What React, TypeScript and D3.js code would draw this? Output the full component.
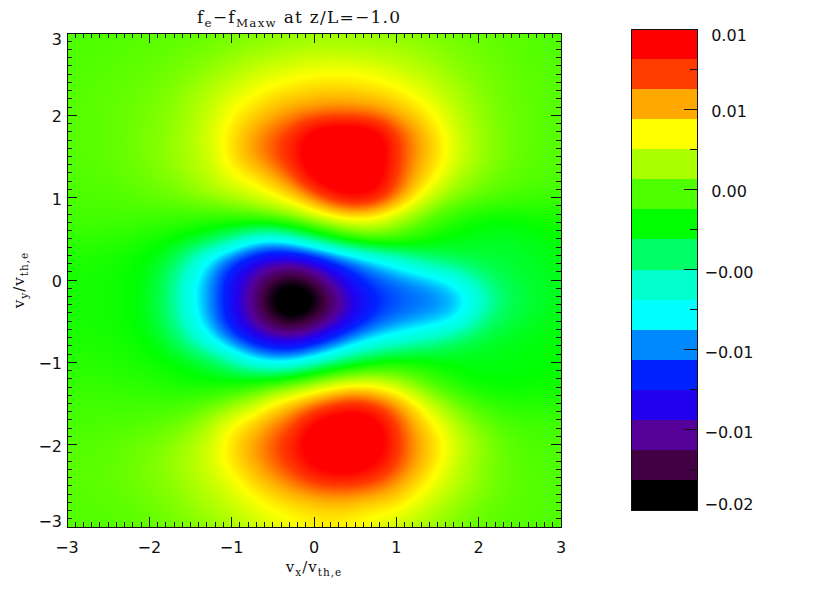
import * as d3 from 'd3';
import React, { useMemo } from 'react';

// grid the map was read on, vx along a row, vy row by row from the top
const vxGrid = d3.range(25).map((i) => -3 + i * 0.25);
const vyGrid = d3.range(25).map((i) => 3 - i * 0.25);

// f_e - f_Maxw, in units of 1e-3
const fRows = [
  [1.4, 1.4, 1.4, 1.5, 1.5, 1.6, 1.7, 1.8, 2.0, 2.2, 2.3, 2.5, 2.6, 2.6, 2.6, 2.5, 2.4, 2.3, 2.1, 1.9, 1.8, 1.7, 1.6, 1.5, 1.4],
  [1.4, 1.4, 1.5, 1.6, 1.7, 1.8, 2.0, 2.2, 2.5, 2.8, 3.0, 3.2, 3.3, 3.4, 3.3, 3.2, 3.0, 2.8, 2.5, 2.2, 2.0, 1.8, 1.6, 1.5, 1.4],
  [1.4, 1.5, 1.6, 1.7, 1.8, 2.0, 2.3, 2.7, 3.1, 3.6, 4.0, 4.3, 4.5, 4.6, 4.5, 4.3, 3.9, 3.4, 3.0, 2.5, 2.2, 1.9, 1.7, 1.6, 1.5],
  [1.5, 1.6, 1.7, 1.8, 2.0, 2.3, 2.7, 3.3, 3.9, 4.5, 5.0, 5.3, 5.5, 5.6, 5.5, 5.3, 4.9, 4.4, 3.6, 3.0, 2.4, 2.0, 1.8, 1.6, 1.5],
  [1.5, 1.6, 1.7, 1.9, 2.1, 2.4, 2.9, 3.6, 4.6, 5.3, 6.0, 6.6, 7.0, 7.2, 7.2, 6.9, 6.2, 5.3, 4.4, 3.3, 2.6, 2.1, 1.8, 1.6, 1.5],
  [1.5, 1.6, 1.7, 1.9, 2.2, 2.5, 3.1, 3.9, 5.0, 6.2, 7.2, 8.2, 10.2, 11.0, 11.0, 10.2, 7.8, 6.4, 5.0, 3.7, 2.8, 2.2, 1.8, 1.6, 1.5],
  [1.5, 1.6, 1.7, 1.9, 2.2, 2.6, 3.0, 3.7, 5.1, 6.2, 7.3, 8.6, 10.5, 11.3, 11.3, 10.4, 8.0, 6.3, 5.1, 3.8, 2.8, 2.2, 1.8, 1.6, 1.5],
  [1.4, 1.5, 1.6, 1.8, 2.0, 2.3, 2.8, 3.4, 4.3, 4.9, 5.9, 7.4, 9.6, 10.6, 10.8, 10.1, 7.7, 5.9, 4.5, 3.1, 2.4, 1.9, 1.6, 1.5, 1.4],
  [1.3, 1.4, 1.4, 1.5, 1.7, 1.9, 2.2, 2.6, 3.0, 3.6, 4.3, 5.2, 6.8, 8.5, 9.3, 8.7, 6.8, 4.7, 3.0, 2.2, 1.7, 1.4, 1.2, 1.1, 1.0],
  [1.2, 1.2, 1.2, 1.2, 1.1, 1.0, 0.9, 0.8, 0.9, 1.1, 1.6, 2.3, 3.3, 4.2, 4.7, 4.3, 3.2, 2.1, 1.2, 0.5, 0.1, -0.1, 0.0, 0.2, 0.4],
  [0.8, 0.8, 0.7, 0.6, 0.3, 0.0, -0.4, -1.1, -2.2, -3.9, -4.6, -3.5, -1.8, -0.2, 1.0, 1.6, 1.3, 0.6, 0.0, -0.4, -0.6, -0.7, -0.6, -0.4, -0.2],
  [0.4, 0.4, 0.3, 0.1, -0.3, -1.0, -3.0, -5.2, -7.2, -9.0, -10.0, -10.2, -9.3, -7.6, -6.2, -5.0, -3.8, -2.5, -1.7, -1.2, -1.0, -0.9, -0.8, -0.6, -0.4],
  [0.3, 0.3, 0.2, 0.0, -0.5, -1.9, -4.3, -6.3, -9.0, -11.0, -13.0, -13.8, -12.4, -10.4, -8.5, -7.4, -6.7, -6.1, -5.4, -4.3, -2.6, -1.5, -1.0, -0.7, -0.5],
  [0.3, 0.3, 0.2, 0.0, -0.6, -2.0, -4.5, -6.4, -9.0, -11.4, -14.6, -16.4, -14.8, -12.0, -9.6, -8.2, -7.4, -7.0, -6.6, -5.9, -3.9, -2.1, -1.2, -0.8, -0.5],
  [0.3, 0.3, 0.2, 0.0, -0.6, -1.8, -4.0, -6.2, -8.8, -11.0, -13.0, -14.0, -12.6, -10.8, -9.0, -7.4, -6.6, -6.0, -5.6, -4.7, -2.6, -1.4, -0.9, -0.6, -0.4],
  [0.4, 0.4, 0.3, 0.2, -0.2, -1.0, -2.6, -4.4, -6.5, -8.4, -9.6, -9.8, -8.8, -7.2, -5.4, -4.4, -3.6, -2.9, -2.2, -1.4, -0.9, -0.6, -0.4, -0.3, -0.2],
  [0.6, 0.6, 0.5, 0.4, 0.2, -0.1, -0.5, -1.1, -2.4, -4.0, -5.0, -4.7, -3.4, -2.0, -0.9, -0.1, 0.3, 0.2, -0.1, -0.3, -0.4, -0.4, -0.3, -0.2, -0.1],
  [0.9, 0.9, 0.8, 0.7, 0.6, 0.3, 0.1, 0.0, 0.1, 0.4, 1.0, 1.8, 2.8, 3.7, 4.2, 4.0, 3.1, 2.0, 1.0, 0.3, -0.1, -0.2, -0.1, 0.0, 0.1],
  [1.1, 1.1, 1.1, 1.1, 1.1, 1.1, 1.3, 1.7, 2.4, 3.3, 4.7, 5.7, 6.7, 7.6, 8.2, 7.5, 6.3, 4.6, 3.0, 1.9, 1.1, 0.7, 0.5, 0.5, 0.6],
  [1.3, 1.3, 1.4, 1.4, 1.6, 1.8, 2.2, 3.2, 4.5, 5.4, 6.5, 7.5, 9.5, 10.6, 10.8, 9.9, 7.7, 5.9, 4.4, 3.1, 2.1, 1.5, 1.2, 1.1, 1.1],
  [1.5, 1.5, 1.6, 1.8, 2.0, 2.4, 3.0, 3.8, 5.1, 6.2, 7.3, 8.6, 10.5, 11.3, 11.3, 10.4, 8.0, 6.3, 5.1, 3.7, 2.7, 1.9, 1.5, 1.4, 1.4],
  [1.6, 1.6, 1.7, 1.9, 2.2, 2.6, 3.1, 3.8, 4.9, 5.9, 7.0, 8.0, 9.5, 10.3, 10.2, 9.2, 7.6, 6.1, 4.7, 3.4, 2.5, 1.9, 1.6, 1.4, 1.4],
  [1.6, 1.6, 1.7, 1.9, 2.1, 2.4, 2.9, 3.4, 4.0, 5.0, 5.8, 6.6, 7.3, 7.6, 7.5, 7.1, 6.2, 5.0, 4.0, 3.1, 2.5, 1.9, 1.6, 1.5, 1.4],
  [1.5, 1.5, 1.6, 1.7, 1.9, 2.2, 2.6, 3.0, 3.5, 4.1, 4.6, 5.0, 5.3, 5.5, 5.3, 5.0, 4.8, 4.0, 3.2, 2.5, 2.0, 1.7, 1.6, 1.5, 1.4],
  [1.5, 1.5, 1.5, 1.6, 1.7, 1.9, 2.2, 2.5, 2.9, 3.4, 3.9, 4.3, 4.6, 4.7, 4.4, 4.0, 3.5, 2.9, 2.5, 2.1, 1.8, 1.6, 1.5, 1.4, 1.4],
];

// colour table, position in the bar and colour
const colorStops = [0, 0.031, 0.094, 0.156, 0.219, 0.281, 0.344, 0.406, 0.469, 0.531, 0.594, 0.656, 0.719, 0.781, 0.844, 0.906, 0.969, 1];
const colorValues = ['#000000', '#000000', '#440044', '#550099', '#2200ee', '#0022ff', '#0088ff', '#00ffff', '#00ffcc', '#00ff66', '#00ff00', '#4dff00', '#aaff00', '#ffff00', '#ffa800', '#ff3c00', '#ff0000', '#ff0000'];

const axisTicks = [-3, -2, -1, 0, 1, 2, 3];
const barMin = -15;
const barMax = 10;
const barLevels = 16;
const barLabels = ['\u22120.02', '\u22120.01', '\u22120.01', '\u22120.00', '0.00', '0.01', '0.01'];

const fontSans = '"DejaVu Sans", sans-serif';
const fontSerif = '"DejaVu Serif", serif';
const ink = '#111';

const x = d3.scaleLinear().domain([-3, 3]).range([67, 561]);
const y = d3.scaleLinear().domain([-3, 3]).range([527, 33]);
const barY = d3.scaleLinear().domain([barMin, barMax]).range([510, 29]);
const colorPos = d3.scaleLinear().domain([barMin, barMax]).range([0, 1]).clamp(true);
const colorTable = d3.scaleLinear<string>().domain(colorStops).range(colorValues).interpolate(d3.interpolateRgb);

// cubic b-spline, only to smooth the read values for drawing like IDL's interpolated image
function spline(a: number, b: number, c: number, d: number, t: number) {
  const t2 = t * t;
  const t3 = t2 * t;
  return ((1 - 3 * t + 3 * t2 - t3) * a + (4 - 6 * t2 + 3 * t3) * b + (1 + 3 * t + 3 * t2 - 3 * t3) * c + t3 * d) / 6;
}

function sample(col: number, row: number) {
  const clampIdx = (i: number) => Math.max(0, Math.min(24, i));
  const c0 = Math.min(23, Math.floor(col));
  const r0 = Math.min(23, Math.floor(row));
  const rowVals = [-1, 0, 1, 2].map((dr) => {
    const r = fRows[clampIdx(r0 + dr)];
    return spline(r[clampIdx(c0 - 1)], r[c0], r[c0 + 1], r[clampIdx(c0 + 2)], col - c0);
  });
  return spline(rowVals[0], rowVals[1], rowVals[2], rowVals[3], row - r0);
}

function renderMap() {
  const w = Math.round(x(3) - x(-3));
  const h = Math.round(y(-3) - y(3));
  const canvas = document.createElement('canvas');
  canvas.width = w;
  canvas.height = h;
  const ctx = canvas.getContext('2d')!;
  const image = ctx.createImageData(w, h);
  const colIdx = d3.scaleLinear().domain(d3.extent(vxGrid) as [number, number]).range([0, 24]);
  const rowIdx = d3.scaleLinear().domain(d3.extent(vyGrid) as [number, number]).range([24, 0]);
  for (let j = 0; j < h; j++) {
    for (let i = 0; i < w; i++) {
      const v = sample(colIdx(x.invert(x(-3) + i + 0.5)), rowIdx(y.invert(y(3) + j + 0.5)));
      const c = d3.rgb(colorTable(colorPos(v)));
      const k = (j * w + i) * 4;
      image.data[k] = c.r;
      image.data[k + 1] = c.g;
      image.data[k + 2] = c.b;
      image.data[k + 3] = 255;
    }
  }
  ctx.putImageData(image, 0, 0);
  return canvas.toDataURL();
}

const Sub = ({ children, dy = 4 }: any) => (
  <tspan fontSize="70%" dy={dy}>{children}</tspan>
);

const minorTicks = d3.range(61).map((i) => -3 + i * 0.1).filter((_, i) => i % 10 !== 0);

export default function App() {
  const href = useMemo(renderMap, []);
  const bands = d3.range(barLevels);
  const bandH = (barMax - barMin) / barLevels;
  const barTicks = d3.range(13).map((i) => barMin + (i * (barMax - barMin)) / 12);

  return (
    <svg width={830} height={593} style={{ position: 'absolute', left: 0, top: 0, background: '#fff' }}>
      <image href={href} x={x(-3)} y={y(3)} width={x(3) - x(-3)} height={y(-3) - y(3)} preserveAspectRatio="none" />

      {/* ticks on all four sides, inward */}
      <g stroke={ink} strokeWidth={1} shapeRendering="crispEdges">
        {minorTicks.concat(axisTicks).map((t, i) => {
          const len = axisTicks.includes(t) ? 10 : 5;
          return (
            <g key={i}>
              <line x1={x(t)} x2={x(t)} y1={y(-3)} y2={y(-3) - len} />
              <line x1={x(t)} x2={x(t)} y1={y(3)} y2={y(3) + len} />
              <line x1={x(-3)} x2={x(-3) + len} y1={y(t)} y2={y(t)} />
              <line x1={x(3)} x2={x(3) - len} y1={y(t)} y2={y(t)} />
            </g>
          );
        })}
        <rect x={x(-3)} y={y(3)} width={x(3) - x(-3)} height={y(-3) - y(3)} fill="none" />
      </g>

      <g fontFamily={fontSans} fontSize={16} fill={ink}>
        {axisTicks.map((t) => (
          <text key={t} x={x(t)} y={553} textAnchor="middle">
            {String(t).replace('-', '\u2212')}
          </text>
        ))}
        {axisTicks.map((t) => (
          <text key={t} x={62} y={t === 3 ? 45 : t === -3 ? 527 : y(t) + 7} textAnchor="end">
            {String(t).replace('-', '\u2212')}
          </text>
        ))}
      </g>

      <text x={197} y={23} fontFamily={fontSerif} fontSize={17} letterSpacing={1.25} fill={ink} xmlSpace="preserve">
        f<Sub>e</Sub>
        <tspan dy={-4}>{'\u2212'}f</tspan>
        <Sub>Maxw</Sub>
        <tspan dy={-4}>{' at z/L=\u22121.0'}</tspan>
      </text>
      <text x={314} y={572} textAnchor="middle" fontFamily={fontSerif} fontSize={15} letterSpacing={1} fill={ink}>
        v<Sub>x</Sub>
        <tspan dy={-4}>/v</tspan>
        <Sub>th,e</Sub>
      </text>
      <text transform="translate(24,280) rotate(-90)" textAnchor="middle" fontFamily={fontSerif} fontSize={15} letterSpacing={1} fill={ink}>
        v<Sub>y</Sub>
        <tspan dy={-4}>/v</tspan>
        <Sub>th,e</Sub>
      </text>

      {/* colour bar */}
      <g shapeRendering="crispEdges">
        {bands.map((i) => {
          const lo = barMin + i * bandH;
          return (
            <rect
              key={i}
              x={631}
              width={66}
              y={barY(lo + bandH)}
              height={barY(lo) - barY(lo + bandH)}
              fill={colorTable((i + 0.5) / barLevels)}
            />
          );
        })}
        <rect x={631} y={barY(barMax)} width={66} height={barY(barMin) - barY(barMax)} fill="none" stroke={ink} />
        {barTicks.map((t, i) => (
          <line key={i} x1={697} x2={697 - (i % 2 === 0 ? 13 : 7)} y1={barY(t)} y2={barY(t)} stroke={ink} />
        ))}
      </g>
      <g fontFamily={fontSans} fontSize={16} fill={ink} textAnchor="middle">
        {barLabels.map((label, i) => {
          const tv = barTicks[i * 2];
          const py = i === 0 ? 510 : i === barLabels.length - 1 ? 41 : barY(tv) + 8;
          return (
            <text key={i} x={729} y={py}>{label}</text>
          );
        })}
      </g>
    </svg>
  );
}
